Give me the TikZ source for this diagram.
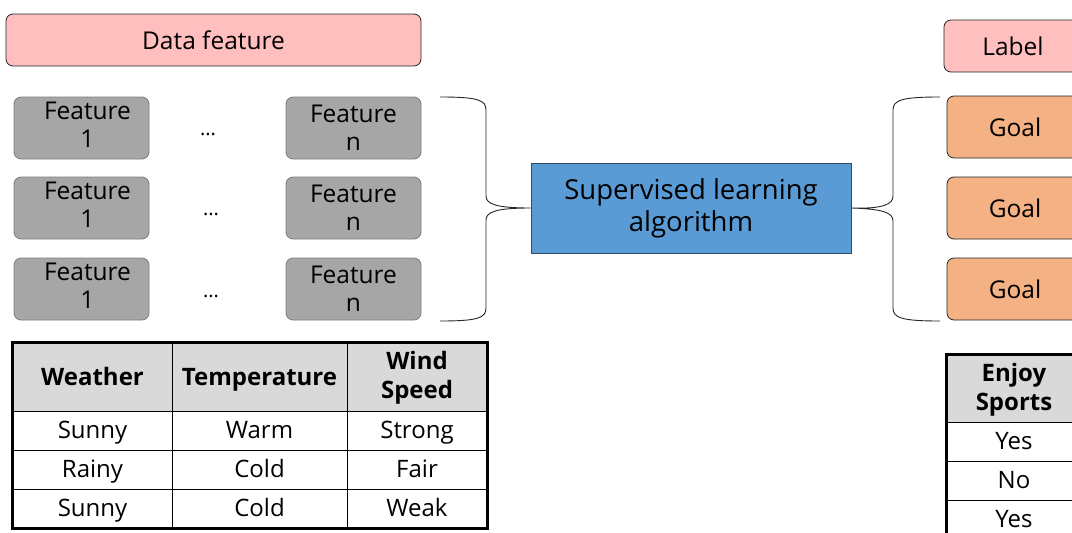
\documentclass[tikz,border=0pt]{standalone}
\usepackage{fontspec}
\setmainfont{Open Sans}
\definecolor{pinkfill}{HTML}{FFBFBF}
\definecolor{grayfill}{HTML}{A6A6A6}
\definecolor{grayline}{HTML}{7F7F7F}
\definecolor{bluefill}{HTML}{5B9BD5}
\definecolor{blueline}{HTML}{2E4A6B}
\definecolor{orangefill}{HTML}{F4B183}
\definecolor{headfill}{HTML}{D9D9D9}
\begin{document}
\begin{tikzpicture}[x=1pt,y=-1pt,
  rbox/.style={draw=black!85, line width=0.8pt, rounded corners=7pt, inner sep=0pt, align=center,
    font=\fontsize{24.5}{28}\selectfont},
  pinkbox/.style={rbox, fill=pinkfill},
  featbox/.style={rbox, fill=grayfill, draw=grayline, minimum width=135pt, minimum height=62pt},
  feattext/.style={inner sep=0pt, align=center, font=\fontsize{24.5}{28}\selectfont},
  goalbox/.style={rbox, fill=orangefill, minimum width=136pt, minimum height=62pt},
  algbox/.style={draw=blueline, line width=0.8pt, fill=bluefill, inner sep=0pt, align=center,
    minimum width=320pt, minimum height=90pt, font=\fontsize{27.5}{32}\selectfont},
  dotsnode/.style={inner sep=0pt, font=\fontsize{20}{24}\selectfont},
  cell/.style={draw=black, line width=1pt, inner sep=0pt, align=center, text height=17pt, text depth=1pt,
    font=\fontsize{24}{29}\selectfont},
  hcell/.style={cell, fill=headfill, font=\fontsize{24}{29}\selectfont\bfseries},
  htext/.style={inner sep=0pt, align=center, font=\fontsize{24}{29}\selectfont\bfseries},
  brace/.style={draw=black!85, line width=0.9pt},
  outer/.style={draw=black, line width=2.6pt}
]
\useasboundingbox (0,0) rectangle (1072,533);
\clip (0,0) rectangle (1072,533);
\fill[white] (0,0) rectangle (1072,533);

% header boxes
\node[pinkbox, minimum width=415pt, minimum height=52pt] (df) at (213.5,40) {Data feature};
\node[pinkbox, minimum width=138pt, minimum height=52pt] (lab) at (1013,46) {Label};

% feature boxes
\node[featbox] (f11) at (81.5,128) {};
\node[featbox] (f21) at (81.5,208) {};
\node[featbox] (f31) at (81.5,289) {};
\node[feattext] (f11t) at ([xshift=6pt,yshift=3pt]f11.center) {Feature\\1};
\node[feattext] (f21t) at ([xshift=6pt,yshift=3pt]f21.center) {Feature\\1};
\node[feattext] (f31t) at ([xshift=6pt,yshift=3pt]f31.center) {Feature\\1};
\node[featbox] (f1n) at (353.5,128) {Feature\\n};
\node[featbox] (f2n) at (353.5,208) {Feature\\n};
\node[featbox] (f3n) at (353.5,289) {Feature\\n};
\node[dotsnode] (d1) at (208,134) {...};
\node[dotsnode] (d2) at (211,214) {...};
\node[dotsnode] (d3) at (211,296) {...};

% algorithm
\node[algbox] (alg) at (691,208) {Supervised learning\\algorithm};

% goals
\node[goalbox] (g1) at (1015,127) {Goal};
\node[goalbox] (g2) at (1015,208) {Goal};
\node[goalbox] (g3) at (1015,289) {Goal};

% braces
\coordinate (lt) at (440,97);
\coordinate (lb) at (440,321);
\coordinate (rt) at (940,97);
\coordinate (rb) at (940,321);
\draw[brace] (lt) .. controls (478,97) and (486,100) .. (486,110) -- (486,196)
  .. controls (486,204) and (496,208) .. (alg.west)
  .. controls (496,208) and (486,212) .. (486,220) -- (486,308)
  .. controls (486,318) and (478,321) .. (lb);
\draw[brace] (rt) .. controls (902,97) and (893,100) .. (893,110) -- (893,196)
  .. controls (893,204) and (884,209) .. (alg.east)
  .. controls (884,209) and (893,213) .. (893,221) -- (893,308)
  .. controls (893,318) and (902,321) .. (rb);

% left table
\node[hcell, minimum width=159pt, minimum height=68pt] (t00) at (92.5,377) {Weather};
\node[hcell, minimum width=175pt, minimum height=68pt] (t01) at (259.5,377) {Temperature};
\node[hcell, minimum width=140pt, minimum height=68pt] (t02) at (417,377) {};
\node[htext] (t02t) at ([yshift=-1pt]t02.center) {Wind\\Speed};
\node[cell, minimum width=159pt, minimum height=39pt] (t10) at (92.5,430.5) {Sunny};
\node[cell, minimum width=175pt, minimum height=39pt] (t11) at (259.5,430.5) {Warm};
\node[cell, minimum width=140pt, minimum height=39pt] (t12) at (417,430.5) {Strong};
\node[cell, minimum width=159pt, minimum height=39pt] (t20) at (92.5,469.5) {Rainy};
\node[cell, minimum width=175pt, minimum height=39pt] (t21) at (259.5,469.5) {Cold};
\node[cell, minimum width=140pt, minimum height=39pt] (t22) at (417,469.5) {Fair};
\node[cell, minimum width=159pt, minimum height=39pt] (t30) at (92.5,508.5) {Sunny};
\node[cell, minimum width=175pt, minimum height=39pt] (t31) at (259.5,508.5) {Cold};
\node[cell, minimum width=140pt, minimum height=39pt] (t32) at (417,508.5) {Weak};
\draw[outer] (t00.north west) rectangle (t32.south east);

% right table
\node[hcell, minimum width=134pt, minimum height=67pt] (s0) at (1014,388.5) {};
\node[htext] (s0t) at ([yshift=-1.5pt]s0.center) {Enjoy\\Sports};
\node[cell, minimum width=134pt, minimum height=39pt] (s1) at (1014,441.5) {Yes};
\node[cell, minimum width=134pt, minimum height=39pt] (s2) at (1014,480.5) {No};
\node[cell, minimum width=134pt, minimum height=39pt] (s3) at (1014,519.5) {Yes};
\draw[outer] (s0.north west) rectangle (s3.south east);
\end{tikzpicture}
\end{document}
